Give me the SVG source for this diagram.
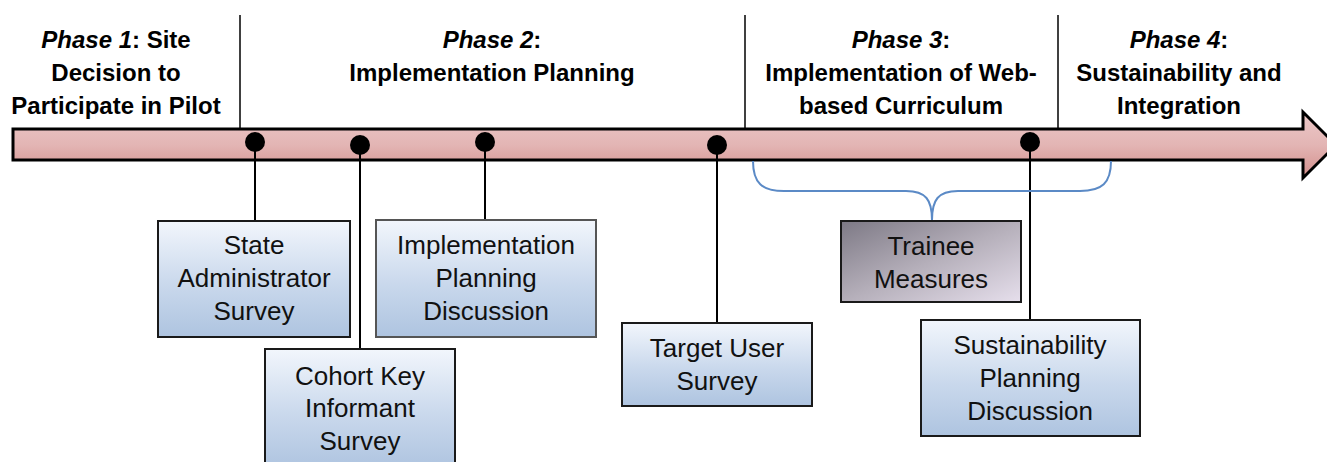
<svg xmlns="http://www.w3.org/2000/svg" width="1327" height="462" viewBox="0 0 1327 462">
<defs>
<linearGradient id="gArrow" x1="0" y1="0" x2="0" y2="1">
<stop offset="0" stop-color="#ecc9c9"/>
<stop offset="0.5" stop-color="#e3b5b4"/>
<stop offset="1" stop-color="#d38e8b"/>
</linearGradient>
<linearGradient id="gBlue" x1="0" y1="0" x2="0" y2="1">
<stop offset="0" stop-color="#f2f6fc"/>
<stop offset="0.55" stop-color="#c9d8ec"/>
<stop offset="1" stop-color="#aec4e0"/>
</linearGradient>
<linearGradient id="gGray" x1="0" y1="0" x2="1" y2="1">
<stop offset="0" stop-color="#7d7985"/>
<stop offset="0.5" stop-color="#b5afba"/>
<stop offset="1" stop-color="#e6dfec"/>
</linearGradient>
<style>
.hdr{font-family:"Liberation Sans",Arial,sans-serif;font-weight:bold;font-size:24px;text-anchor:middle;fill:#000}
.hdr .it{font-style:italic}
.lbl{font-family:"Liberation Sans",Arial,sans-serif;font-size:26px;text-anchor:middle;fill:#111}
.box{fill:url(#gBlue);stroke:#1a1a1a;stroke-width:2}
.div{stroke:#000;stroke-width:1.5}
.con{stroke:#000;stroke-width:2;fill:none}
.dot{fill:#000}
</style>
</defs>

<g id="phase-dividers">
<line class="div" x1="240" y1="15" x2="240" y2="129"/>
<line class="div" x1="745" y1="15" x2="745" y2="129"/>
<line class="div" x1="1058" y1="15" x2="1058" y2="129"/>
</g>

<g id="phase1">
<text class="hdr" x="116" y="48"><tspan class="it">Phase 1</tspan>: Site</text>
<text class="hdr" x="116" y="81">Decision to</text>
<text class="hdr" x="116" y="114">Participate in Pilot</text>
</g>
<g id="phase2">
<text class="hdr" x="492" y="48"><tspan class="it">Phase 2</tspan>:</text>
<text class="hdr" x="492" y="81">Implementation Planning</text>
</g>
<g id="phase3">
<text class="hdr" x="901" y="48"><tspan class="it">Phase 3</tspan>:</text>
<text class="hdr" x="901" y="81">Implementation of Web-</text>
<text class="hdr" x="901" y="114">based Curriculum</text>
</g>
<g id="phase4">
<text class="hdr" x="1179" y="48"><tspan class="it">Phase 4</tspan>:</text>
<text class="hdr" x="1179" y="81">Sustainability and</text>
<text class="hdr" x="1179" y="114">Integration</text>
</g>

<g id="timeline-arrow">
<path d="M13,129 L1303,129 L1303,112 L1336,145 L1303,178 L1303,160 L13,160 Z" fill="url(#gArrow)" stroke="#000" stroke-width="3" stroke-linejoin="miter"/>
</g>

<g id="connectors">
<line class="con" x1="255" y1="142" x2="255" y2="221"/>
<line class="con" x1="360" y1="145" x2="360" y2="349"/>
<line class="con" x1="485" y1="142" x2="485" y2="220"/>
<line class="con" x1="717" y1="145" x2="717" y2="323"/>
<line class="con" x1="1030" y1="142" x2="1030" y2="320"/>
<path d="M753,161 C753,183 762,191 784,191 L906,191 C926,191 932,200 932,220 C932,200 938,191 958,191 L1080,191 C1102,191 1111,183 1111,161" fill="none" stroke="#5b8ac6" stroke-width="2"/>
<circle class="dot" cx="255" cy="142" r="10"/>
<circle class="dot" cx="360" cy="145" r="10"/>
<circle class="dot" cx="485" cy="142" r="10"/>
<circle class="dot" cx="717" cy="145" r="10"/>
<circle class="dot" cx="1030" cy="142" r="10"/>
</g>

<g id="state-admin-survey">
<rect class="box" x="158" y="221" width="192" height="116"/>
<text class="lbl" x="254" y="254">State</text>
<text class="lbl" x="254" y="287">Administrator</text>
<text class="lbl" x="254" y="320">Survey</text>
</g>
<g id="cohort-key-informant-survey">
<rect class="box" x="265" y="349" width="190" height="120"/>
<text class="lbl" x="360" y="385">Cohort Key</text>
<text class="lbl" x="360" y="417">Informant</text>
<text class="lbl" x="360" y="450">Survey</text>
</g>
<g id="implementation-planning-discussion">
<rect class="box" x="376" y="220" width="220" height="117" style="stroke:#555"/>
<text class="lbl" x="486" y="254">Implementation</text>
<text class="lbl" x="486" y="287">Planning</text>
<text class="lbl" x="486" y="320">Discussion</text>
</g>
<g id="target-user-survey">
<rect class="box" x="622" y="323" width="190" height="83"/>
<text class="lbl" x="717" y="357">Target User</text>
<text class="lbl" x="717" y="390">Survey</text>
</g>
<g id="trainee-measures">
<rect x="841" y="221" width="180" height="81" fill="url(#gGray)" stroke="#1a1a1a" stroke-width="2"/>
<text class="lbl" x="931" y="255">Trainee</text>
<text class="lbl" x="931" y="288">Measures</text>
</g>
<g id="sustainability-planning-discussion">
<rect class="box" x="921" y="320" width="219" height="116"/>
<text class="lbl" x="1030" y="354">Sustainability</text>
<text class="lbl" x="1030" y="387">Planning</text>
<text class="lbl" x="1030" y="420">Discussion</text>
</g>
</svg>
